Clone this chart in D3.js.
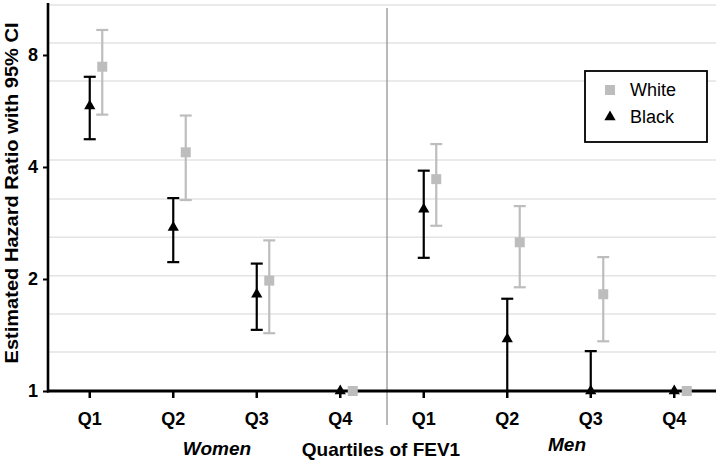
<!DOCTYPE html>
<html>
<head>
<meta charset="utf-8">
<script src="https://cdn.jsdelivr.net/npm/d3@7"></script>
<style>
  html, body { margin: 0; padding: 0; background: #fff; }
  text { font-family: "Liberation Sans", Arial, sans-serif; }
</style>
</head>
<body>
<svg id="chart" width="720" height="462"></svg>
<script>
// ---- data ----
const categories = ["W-Q1", "W-Q2", "W-Q3", "W-Q4", "M-Q1", "M-Q2", "M-Q3", "M-Q4"];
const categoryLabels = ["Q1", "Q2", "Q3", "Q4", "Q1", "Q2", "Q3", "Q4"];
const whiteHR    = [7.44, 4.38, 1.98, 1.00, 3.71, 2.51, 1.82, 1.00];
const whiteLower = [5.53, 3.26, 1.43, null, 2.78, 1.90, 1.36, null];
const whiteUpper = [9.34, 5.50, 2.54, null, 4.61, 3.14, 2.29, null];
const blackHR    = [5.83, 2.75, 1.82, 1.00, 3.08, 1.38, 1.00, 1.00];
const blackLower = [4.75, 2.22, 1.46, null, 2.28, 0.90, 0.80, null];
const blackUpper = [6.99, 3.30, 2.20, null, 3.91, 1.77, 1.28, null];
const yTicks = [1, 2, 4, 8];
const gridValues = [1.273, 1.61, 2.04, 2.59, 3.28, 4.18, 6.81, 8.62, 10.9];
const groupLabels = ["Women", "Men"];
const xTitle = "Quartiles of FEV1";
const yTitle = "Estimated Hazard Ratio with 95% CI";
const legendItems = ["White", "Black"];

// ---- layout ----
const svg = d3.select("#chart");
const mLeft = 48, mRight = 716, mTop = 5, mBottom = 391;
const y = d3.scaleLog().base(2).domain([1, 10.9]).range([mBottom, mTop]);
const x = d3.scaleBand().domain(categories).range([mLeft, mRight]).padding(0);
const cx = c => x(c) + x.bandwidth() / 2;
const greyC = "#bdbdbd";
const yc = v => Math.min(mBottom, y(Math.max(v, 1)));

// gridlines
svg.append("g").selectAll("line").data(gridValues).join("line")
  .attr("x1", mLeft).attr("x2", mRight)
  .attr("y1", d => y(d)).attr("y2", d => y(d))
  .attr("stroke", "#e3e3e3").attr("stroke-width", 1.5);

// divider
svg.append("line")
  .attr("x1", x("M-Q1") + 5).attr("x2", x("M-Q1") + 5)
  .attr("y1", 8).attr("y2", 425)
  .attr("stroke", "#8a8a8a").attr("stroke-width", 1.2);

// y axis
const yAxis = svg.append("g").attr("transform", `translate(${mLeft},0)`)
  .call(d3.axisLeft(y).tickValues(yTicks).tickFormat(d3.format("d")).tickSize(5).tickPadding(5));
yAxis.select(".domain").remove();
yAxis.selectAll(".tick line").attr("stroke", "#000").attr("stroke-width", 2);
yAxis.selectAll(".tick text").attr("font-size", 18).attr("font-weight", "bold")
  .attr("fill", "#000").style("font-family", "'Liberation Sans', Arial, sans-serif");
svg.append("line").attr("x1", mLeft).attr("x2", mLeft).attr("y1", 3).attr("y2", mBottom + 1.5)
  .attr("stroke", "#000").attr("stroke-width", 2.6);

// x axis
const xAxis = svg.append("g").attr("transform", `translate(0,${mBottom})`)
  .call(d3.axisBottom(x).tickFormat((d, i) => categoryLabels[i]).tickSize(7).tickPadding(14));
xAxis.select(".domain").remove();
xAxis.selectAll(".tick line").attr("stroke", "#000").attr("stroke-width", 2.5);
xAxis.selectAll(".tick text").attr("font-size", 18).attr("font-weight", "bold")
  .attr("fill", "#000").style("font-family", "'Liberation Sans', Arial, sans-serif");
svg.append("line").attr("x1", mLeft - 1).attr("x2", mRight).attr("y1", mBottom).attr("y2", mBottom)
  .attr("stroke", "#000").attr("stroke-width", 3);

// series drawing
function drawSeries(hr, lo, hi, color, offset, symbolType, size) {
  const g = svg.append("g");
  const rows = categories.map((c, i) => ({ c, hr: hr[i], lo: lo[i], hi: hi[i] }));
  const bars = rows.filter(d => d.lo !== null);
  g.selectAll("line.v").data(bars).join("line")
    .attr("x1", d => cx(d.c) + offset).attr("x2", d => cx(d.c) + offset)
    .attr("y1", d => yc(d.lo)).attr("y2", d => y(d.hi))
    .attr("stroke", color).attr("stroke-width", 2.2);
  g.selectAll("line.hi").data(bars).join("line")
    .attr("x1", d => cx(d.c) + offset - 6).attr("x2", d => cx(d.c) + offset + 6)
    .attr("y1", d => y(d.hi)).attr("y2", d => y(d.hi))
    .attr("stroke", color).attr("stroke-width", 2.2);
  g.selectAll("line.lo").data(bars.filter(d => d.lo >= 1)).join("line")
    .attr("x1", d => cx(d.c) + offset - 6).attr("x2", d => cx(d.c) + offset + 6)
    .attr("y1", d => y(d.lo)).attr("y2", d => y(d.lo))
    .attr("stroke", color).attr("stroke-width", 2.2);
  g.selectAll("path").data(rows).join("path")
    .attr("transform", d => `translate(${cx(d.c) + offset},${yc(d.hr)})`)
    .attr("d", d3.symbol().type(symbolType).size(size))
    .attr("fill", color);
}
drawSeries(whiteHR, whiteLower, whiteUpper, greyC, 12.5, d3.symbolSquare, 100);
drawSeries(blackHR, blackLower, blackUpper, "#000", 0, d3.symbolTriangle, 55);

// titles
svg.append("text").attr("transform", "translate(18,193) rotate(-90)")
  .attr("text-anchor", "middle").attr("font-size", 18).attr("font-weight", "bold")
  .attr("textLength", 341).attr("lengthAdjust", "spacingAndGlyphs").text(yTitle);
svg.append("text").attr("x", 381).attr("y", 456).attr("text-anchor", "middle")
  .attr("font-size", 19).attr("font-weight", "bold").text(xTitle);
svg.append("text").attr("x", 217).attr("y", 455).attr("text-anchor", "middle")
  .attr("font-size", 19).attr("font-weight", "bold").attr("font-style", "italic").text(groupLabels[0]);
svg.append("text").attr("x", 567).attr("y", 451).attr("text-anchor", "middle")
  .attr("font-size", 19).attr("font-weight", "bold").attr("font-style", "italic").text(groupLabels[1]);

// legend
const lg = svg.append("g").attr("transform", "translate(585,71)");
lg.append("rect").attr("width", 122).attr("height", 71).attr("fill", "#fff")
  .attr("stroke", "#000").attr("stroke-width", 1.8);
const legendSymbols = [[d3.symbolSquare, 100, greyC], [d3.symbolTriangle, 55, "#000"]];
legendItems.forEach((name, i) => {
  lg.append("path").attr("transform", `translate(25,${19 + i * 27})`)
    .attr("d", d3.symbol().type(legendSymbols[i][0]).size(legendSymbols[i][1]))
    .attr("fill", legendSymbols[i][2]);
  lg.append("text").attr("x", 45).attr("y", 19 + i * 27).attr("dy", "0.35em")
    .attr("font-size", 18).attr("fill", "#000").text(name);
});
</script>
</body>
</html>
